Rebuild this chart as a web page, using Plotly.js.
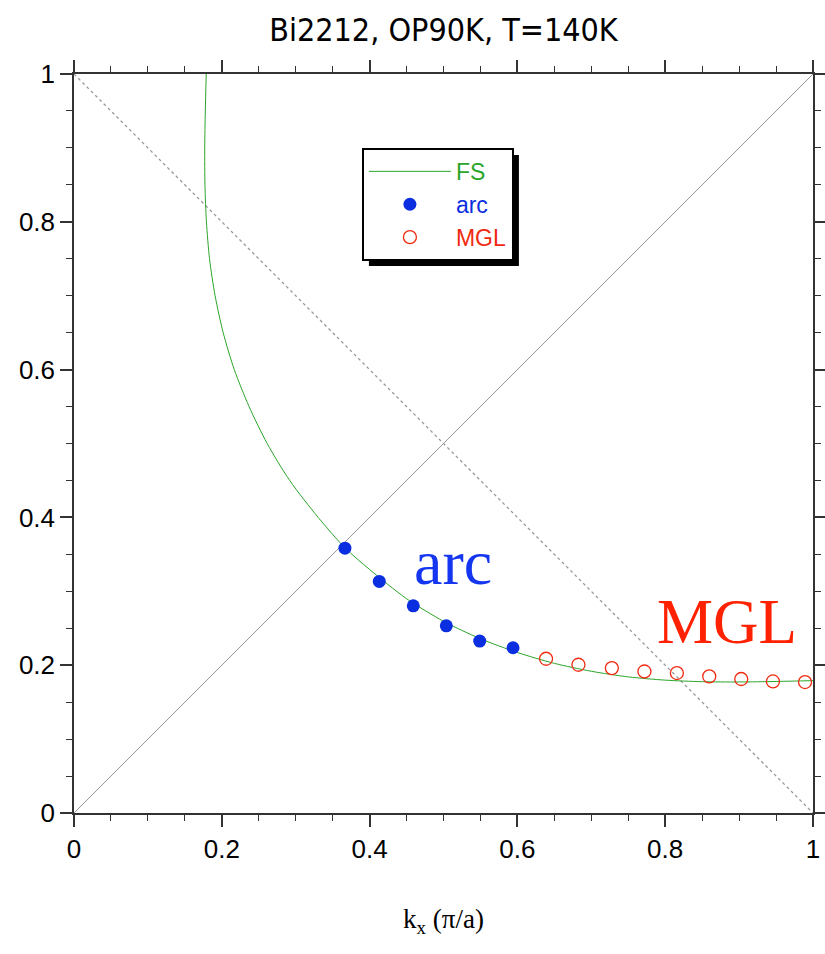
<!DOCTYPE html>
<html>
<head>
<meta charset="utf-8">
<script src="https://cdn.plot.ly/plotly-3.0.1.min.js"></script>
<style>html,body{margin:0;padding:0;background:#fff;}#chart{width:825px;height:954px;}</style>
</head>
<body>
<div id="chart"></div>
<script>
// Fermi surface (FS) curve (upper branch then lower branch)
const fsX = [0.1789,0.1777,0.1769,0.1772,0.1792,0.1834,0.1909,0.2019,0.2169,0.2369,0.2614,0.2919,0.3304,
             0.3666,0.40,0.45,0.50,0.55,0.60,0.65,0.70,0.75,0.80,0.85,0.90,0.95,1.0];
const fsY = [1.0,0.95,0.90,0.85,0.80,0.75,0.70,0.65,0.60,0.55,0.50,0.45,0.40,
             0.3589,0.3295,0.2900,0.2595,0.2358,0.2172,0.2025,0.1918,0.1842,0.1798,0.1777,0.1773,0.1780,0.1791];
// arc points (filled blue)
const arcX = [0.3666,0.4131,0.4591,0.5038,0.5490,0.5941];
const arcY = [0.3584,0.3133,0.2804,0.2533,0.2326,0.2236];
// MGL points (open red)
const mglX = [0.6388,0.6826,0.7278,0.7719,0.8158,0.8596,0.9029,0.9458,0.9892];
const mglY = [0.2087,0.2006,0.1961,0.1915,0.1894,0.1848,0.1813,0.1780,0.1772];
// reference lines
const diagX = [0,1], diagY = [0,1];
const antiX = [0,1], antiY = [1,0];
const legendNames = ['FS','arc','MGL'];

const green = '#2aa52a', blue = '#0a2ee0', red = '#f02a10';

const traces = [
  {x: diagX, y: diagY, mode:'lines', line:{color:'#999', width:1}, showlegend:false, hoverinfo:'skip'},
  {x: antiX, y: antiY, mode:'lines', line:{color:'#999', width:1.3, dash:'dot'}, showlegend:false, hoverinfo:'skip'},
  {x: fsX, y: fsY, mode:'lines', name:'<span style="color:'+green+'">'+legendNames[0]+'</span>', line:{color:green, width:1, shape:'spline', smoothing:0.8}, legendgroup:'a'},
  {x: arcX, y: arcY, mode:'markers', name:'<span style="color:'+blue+'">'+legendNames[1]+'</span>', marker:{color:blue, size:13, symbol:'circle'}, legendgroup:'b'},
  {x: mglX, y: mglY, mode:'markers', name:'<span style="color:'+red+'">'+legendNames[2]+'</span>', marker:{color:red, size:13, symbol:'circle-open', line:{width:1.3, color:red}}, legendgroup:'c'}
];

const axisCommon = {
  range:[0,1], dtick:0.2, tick0:0, showgrid:false, zeroline:false,
  showline:true, linecolor:'#333', linewidth:1.5, mirror:'allticks',
  ticks:'outside', ticklen:12, tickwidth:1.5, tickcolor:'#333',
  minor:{dtick:0.05, ticks:'outside', ticklen:6, tickwidth:1.2, tickcolor:'#333', showgrid:false},
  tickfont:{family:'Liberation Sans, Arial, sans-serif', size:26, color:'#000'}
};

const layout = {
  width:825, height:954,
  margin:{l:74, r:12, t:74, b:141},
  paper_bgcolor:'#fff', plot_bgcolor:'#fff',
  title:{text:'Bi2212, OP90K, T=140K', x:0.5375, xanchor:'center', y:0.9686, yanchor:'middle',
         font:{family:'DejaVu Sans Condensed, DejaVu Sans, sans-serif', size:32, color:'#000'}},
  xaxis: Object.assign({}, axisCommon, {
    title:{text:'k<sub>x</sub> (π/a)', standoff:46, font:{family:'Liberation Serif, Times New Roman, serif', size:27, color:'#000'}}
  }),
  yaxis: Object.assign({}, axisCommon),
  showlegend:true,
  legend:{x:0.3896, y:0.900, xanchor:'left', yanchor:'top', bgcolor:'#fff', bordercolor:'#000', borderwidth:2,
          font:{family:'Liberation Sans, Arial, sans-serif', size:23}, traceorder:'grouped', tracegroupgap:0, itemwidth:82},
  annotations:[
    {x:0.5135, y:0.3385, xref:'x', yref:'y', text:'arc', showarrow:false,
     font:{family:'Liberation Serif, Times New Roman, serif', size:64, color:'#1436f0'}},
    {x:0.8836, y:0.2586, xref:'x', yref:'y', text:'MGL', showarrow:false,
     font:{family:'Liberation Serif, Times New Roman, serif', size:63, color:'#ff2200'}}
  ]
};

Plotly.newPlot('chart', traces, layout, {displayModeBar:false, responsive:false}).then(function(gd){
  const bg = gd.querySelector('.legend .bg');
  if (!bg) return;
  const r = bg.getBoundingClientRect();
  const c = gd.getBoundingClientRect();
  const sz = gd._fullLayout._size;
  const off = 6;
  const toPX = function(px){ return (px - c.left - sz.l) / sz.w; };
  const toPY = function(py){ return 1 - (py - c.top - sz.t) / sz.h; };
  Plotly.relayout(gd, {shapes:[{
    type:'rect', xref:'paper', yref:'paper', layer:'above',
    x0: toPX(r.left + off), x1: toPX(r.right + off),
    y0: toPY(r.bottom + off), y1: toPY(r.top + off),
    fillcolor:'#000', line:{width:0}
  }]});
});
</script>
</body>
</html>
